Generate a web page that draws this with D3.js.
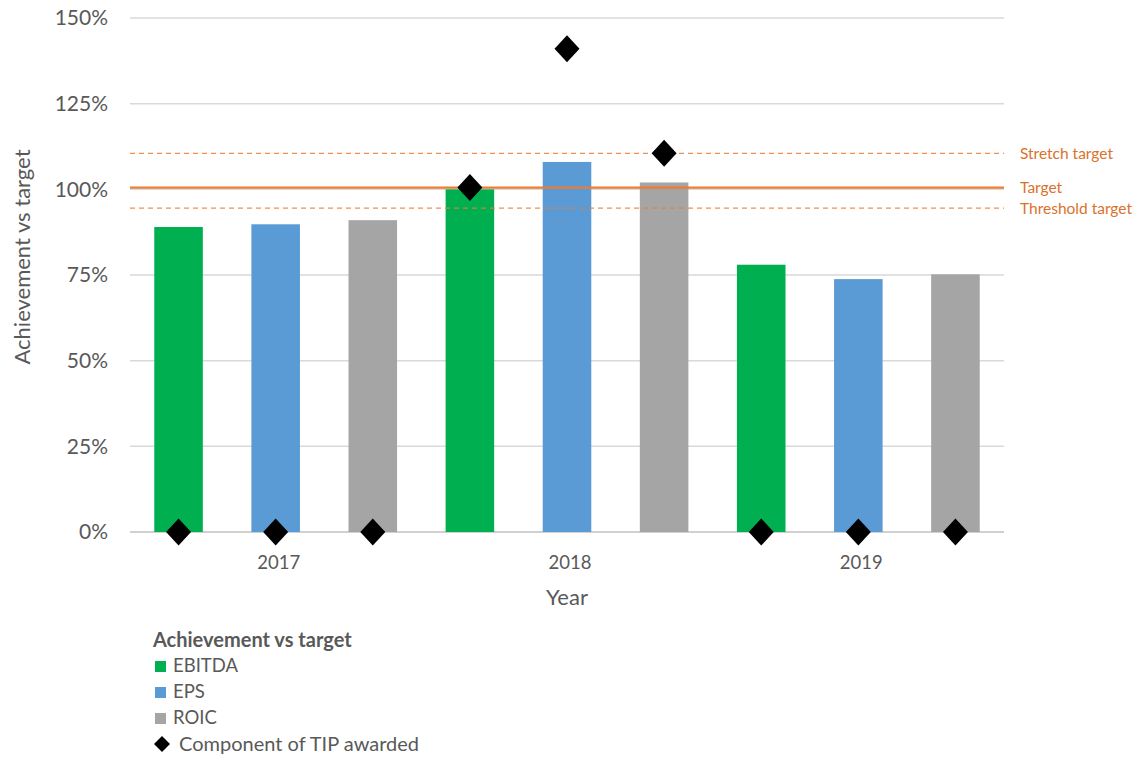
<!DOCTYPE html>
<html><head><meta charset="utf-8">
<script src="https://cdn.jsdelivr.net/npm/d3@7"></script>
<style>body{margin:0;background:#fff;font-family:Lato,"Open Sans",sans-serif;}</style>
</head><body><svg id="c" width="1138" height="758"></svg>
<script>
const years = ["2017","2018","2019"];
const metrics = ["EBITDA","EPS","ROIC"];
const metricColors = ["#00B050","#5B9BD5","#A5A5A5"];
const achievement = [
  [89.0, 89.8, 91.0],
  [100.0, 108.0, 102.0],
  [78.0, 73.8, 75.2]
];
const tipAwarded = [
  [0, 0, 0],
  [100.5, 141.0, 110.5],
  [0, 0, 0]
];
const refLines = [
  {name:"Stretch target", value:110.5, dashed:true},
  {name:"Target", value:100.5, dashed:false},
  {name:"Threshold target", value:94.5, dashed:true}
];
const yTicks = [0,25,50,75,100,125,150];

const svg = d3.select("#c");
const pL=130, pR=1004, pT=18, pB=532;
const textCol="#595959", orange="#ED7D31";

const slots = [];
years.forEach((yv,i)=>metrics.forEach((m,j)=>slots.push({year:yv,metric:m,mi:j,val:achievement[i][j],tip:tipAwarded[i][j]})));
const x = d3.scaleBand().domain(slots.map((d,i)=>i)).range([pL,pR]).paddingInner(0.5).paddingOuter(0.25);
const y = d3.scaleLinear().domain([0,150]).range([pB,pT]);

// gridlines
svg.append("g").selectAll("line").data(yTicks).join("line")
  .attr("x1",pL).attr("x2",pR).attr("y1",d=>y(d)).attr("y2",d=>y(d))
  .attr("stroke",d=>d===0?"#d0d0d0":"#d9d9d9").attr("stroke-width",d=>d===0?2:1.5);

// y axis labels
const yAxis = d3.axisLeft(y).tickValues(yTicks).tickFormat(d=>d+"%").tickSize(0).tickPadding(0);
const ya = svg.append("g").attr("transform",`translate(108,0)`).call(yAxis);
ya.select(".domain").remove();
ya.selectAll("text").attr("fill",textCol).attr("font-size",21).attr("font-family","Lato,sans-serif");

// bars
svg.append("g").selectAll("rect").data(slots).join("rect")
  .attr("x",(d,i)=>x(i)).attr("width",x.bandwidth())
  .attr("y",d=>y(d.val)).attr("height",d=>y(0)-y(d.val))
  .attr("fill",d=>metricColors[d.mi]);

// reference lines
refLines.forEach(r=>{
  svg.append("line").attr("x1",pL).attr("x2",pR).attr("y1",y(r.value)).attr("y2",y(r.value))
    .attr("stroke",orange).attr("stroke-width",r.dashed?1.3:2.2)
    .attr("stroke-dasharray",r.dashed?"5,4":null).attr("opacity",r.dashed?0.85:1);
  svg.append("text").attr("x",1020).attr("y",y(r.value)).attr("dy","0.35em")
    .attr("fill","#D9722B").attr("font-size",15.5).text(r.name);
});

// diamonds
const dh=13.5;
svg.append("g").selectAll("path").data(slots).join("path")
  .attr("d",`M0,${-dh}L${dh-1},0L0,${dh}L${-(dh-1)},0Z`)
  .attr("transform",(d,i)=>`translate(${x(i)+x.bandwidth()/2},${y(d.tip)})`)
  .attr("fill","#000");

// year labels
years.forEach((yr,i)=>{
  const cx = x(i*3+1)+x.bandwidth()/2 + 3;
  svg.append("text").attr("x",cx).attr("y",563).attr("dy","0.35em").attr("text-anchor","middle")
    .attr("fill",textCol).attr("font-size",18.5).text(yr);
});
svg.append("text").attr("x",567).attr("y",597).attr("dy","0.35em").attr("text-anchor","middle")
  .attr("fill",textCol).attr("font-size",22).text("Year");
svg.append("text").attr("transform","translate(22,257) rotate(-90)").attr("dy","0.35em").attr("text-anchor","middle")
  .attr("fill",textCol).attr("font-size",22).text("Achievement vs target");

// legend
const lg = svg.append("g");
lg.append("text").attr("x",153).attr("y",640).attr("dy","0.35em").attr("font-weight","bold")
  .attr("fill",textCol).attr("font-size",20).text("Achievement vs target");
metrics.forEach((m,i)=>{
  const yy=666+i*26;
  lg.append("rect").attr("x",155).attr("y",yy-5).attr("width",11).attr("height",11).attr("fill",metricColors[i]);
  lg.append("text").attr("x",173).attr("y",yy).attr("dy","0.35em").attr("fill",textCol).attr("font-size",18.5).text(m);
});
lg.append("path").attr("d","M0,-8L8,0L0,8L-8,0Z").attr("transform","translate(162,744)").attr("fill","#000");
lg.append("text").attr("x",179).attr("y",744).attr("dy","0.35em").attr("fill",textCol).attr("font-size",20).text("Component of TIP awarded");
</script></body></html>
